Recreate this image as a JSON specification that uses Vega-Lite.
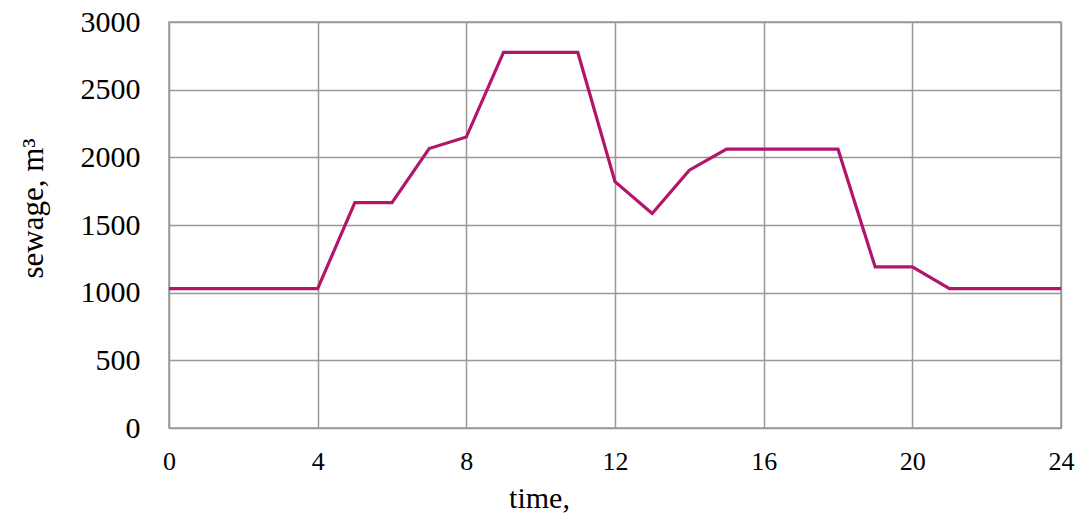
{
  "$schema": "https://vega.github.io/schema/vega-lite/v6.json",
  "width": 892,
  "height": 406,
  "autosize": {"type": "none"},
  "padding": {"left": 169, "top": 22, "right": 18, "bottom": 85},
  "background": "white",
  "config": {
    "view": {"stroke": "#999999", "strokeWidth": 1.5},
    "font": "Liberation Serif"
  },
  "data": {
    "values": [
      {"t": 0, "v": 1030}, {"t": 1, "v": 1030}, {"t": 2, "v": 1030}, {"t": 3, "v": 1030},
      {"t": 4, "v": 1030}, {"t": 5, "v": 1665}, {"t": 6, "v": 1665}, {"t": 7, "v": 2065},
      {"t": 8, "v": 2150}, {"t": 9, "v": 2775}, {"t": 10, "v": 2775}, {"t": 11, "v": 2775},
      {"t": 12, "v": 1820}, {"t": 13, "v": 1585}, {"t": 14, "v": 1905}, {"t": 15, "v": 2060},
      {"t": 16, "v": 2060}, {"t": 17, "v": 2060}, {"t": 18, "v": 2060}, {"t": 19, "v": 1190},
      {"t": 20, "v": 1190}, {"t": 21, "v": 1030}, {"t": 22, "v": 1030}, {"t": 23, "v": 1030},
      {"t": 24, "v": 1030}
    ]
  },
  "mark": {"type": "line", "color": "#B3156B", "strokeWidth": 3.2, "strokeJoin": "miter"},
  "encoding": {
    "x": {
      "field": "t", "type": "quantitative",
      "scale": {"domain": [0, 24], "nice": false},
      "axis": {
        "values": [0, 4, 8, 12, 16, 20, 24],
        "format": "d",
        "title": "time,",
        "titleFont": "Liberation Serif", "titleFontSize": 30, "titleFontWeight": "normal",
        "titleColor": "#000000",
        "titleX": 370, "titleY": 79, "titleAlign": "center", "titleBaseline": "alphabetic",
        "labelFont": "Liberation Serif", "labelFontSize": 26, "labelColor": "#000000",
        "labelPadding": 20, "labelFlush": false,
        "ticks": false, "domain": false,
        "grid": true, "gridColor": "#999999", "gridWidth": 1.5
      }
    },
    "y": {
      "field": "v", "type": "quantitative",
      "scale": {"domain": [0, 3000], "nice": false},
      "axis": {
        "values": [0, 500, 1000, 1500, 2000, 2500, 3000],
        "format": "d",
        "title": "sewage, m³",
        "titleFont": "Liberation Serif", "titleFontSize": 31, "titleFontWeight": "normal",
        "titleColor": "#000000",
        "titleX": -127, "titleY": 256, "titleAngle": -90, "titleAlign": "left", "titleBaseline": "alphabetic",
        "labelFont": "Liberation Serif", "labelFontSize": 30, "labelColor": "#000000",
        "labelPadding": 29, "labelFlush": false,
        "ticks": false, "domain": false,
        "grid": true, "gridColor": "#999999", "gridWidth": 1.5
      }
    }
  }
}
